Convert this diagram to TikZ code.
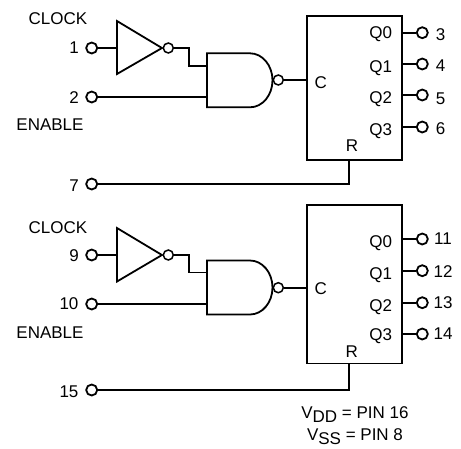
\documentclass[tikz,border=0pt]{standalone}
\usepackage{fontspec}
\setmainfont{Liberation Sans}
\begin{document}
\begin{tikzpicture}[x=1pt,y=-1pt]
		\tikzset{wire/.style = {line width=1.8pt}}
		\tikzset{pin/.style = {shape=circle,draw,line width=1.8pt,fill=white,inner sep=0pt,minimum size=11pt}}
		\tikzset{bubble/.style = {shape=circle,draw,line width=1.5pt,fill=white,inner sep=0pt,minimum size=10pt}}
		\tikzset{txt/.style = {font=\fontsize{17}{17}\selectfont,inner sep=0pt}}
		\useasboundingbox (0,0) rectangle (461,448);
		% upper half: pins
		\node[pin] (p1) at (91.7,48) {};
		\node[pin] (p2) at (91.7,97) {};
		\node[pin] (p7) at (91.7,184) {};
		\node[txt] (n1) at (74,48) {1};
		\node[txt] (n2) at (74,98) {2};
		\node[txt] (n7) at (74,186) {7};
		\node[txt] (clka) at (58,18.5) {CLOCK};
		\node[txt] (ena) at (50,125) {ENABLE};
		% upper half: gates
		\coordinate (inva) at (117,48);
		\draw[wire] (117,21) -- (162,48) -- (117,74) -- cycle;
		\node[bubble] (ba) at (168.3,48) {};
		\coordinate (na) at (207,66);
		\coordinate (nb) at (207,97);
		\draw[wire] (207,53.3) -- (250,53.3) arc[start angle=-90,end angle=90,x radius=22.5,y radius=27] -- (207,107.3) -- cycle;
		\node[bubble] (bb) at (278.3,80) {};
		% upper half: counter
		\node[draw,wire,minimum width=95pt,minimum height=144pt,inner sep=0pt] (cnta) at (354.5,88) {};
		\coordinate (ca) at (cnta.west |- bb);
		\coordinate (ra) at (349,160);
		\node[txt] (cla) at (320.7,83) {C};
		\node[txt] (rla) at (352,146) {R};
		\foreach \name/\ypos/\ytxt/\ynum/\num in {0/32.7/34/35/3,1/64/68/66/4,2/95/99/99/5,3/127/131/129/6} {
			\node[txt] (qa\name) at (380.7,\ytxt) {Q\name};
			\node[pin] (pa\name) at (422.3,\ypos) {};
			\node[txt] (na\name) at (440.7,\ynum) {\num};
			\coordinate (sa\name) at (402,\ypos);
			\draw[wire] (sa\name) -- (pa\name);
		}
		% upper half: wires
		\draw[wire] (p1) -- (inva);
		\draw[wire] (ba) -- (189,48) -- (189,66) -- (na);
		\draw[wire] (p2) -- (nb);
		\draw[wire] (bb) -- (ca);
		\draw[wire] (p7) -- (349,184) -- (ra);
		% lower half: pins
		\node[pin] (p9) at (91.7,255) {};
		\node[pin] (p10) at (91.7,304) {};
		\node[pin] (p15) at (91.7,390) {};
		\node[txt] (n9) at (74,256) {9};
		\node[txt] (n10) at (69,304) {10};
		\node[txt] (n15) at (69,392) {15};
		\node[txt] (clkb) at (58,228) {CLOCK};
		\node[txt] (enb) at (50,332.7) {ENABLE};
		% lower half: gates
		\coordinate (invb) at (117,255);
		\draw[wire] (117,228) -- (162,255) -- (117,281.5) -- cycle;
		\node[bubble] (bc) at (168.3,255) {};
		\coordinate (nc) at (207,272.5);
		\coordinate (nd) at (207,304);
		\draw[wire] (207,260.5) -- (250,260.5) arc[start angle=-90,end angle=90,x radius=22.5,y radius=27] -- (207,314.5) -- cycle;
		\node[bubble] (bd) at (278.3,287.7) {};
		% lower half: counter
		\node[draw,wire,minimum width=95pt,minimum height=158.5pt,inner sep=0pt] (cntb) at (354.5,284.25) {};
		\coordinate (cb) at (cntb.west |- bd);
		\coordinate (rb) at (349,363.5);
		\node[txt] (clb) at (320.7,289) {C};
		\node[txt] (rlb) at (351.7,351.7) {R};
		\foreach \name/\ypos/\ytxt/\ynum/\num in {0/239/242.7/239/11,1/270.7/275/272/12,2/302.7/306.7/303/13,3/334/336/334/14} {
			\node[txt] (qb\name) at (380.7,\ytxt) {Q\name};
			\node[pin] (pb\name) at (422.3,\ypos) {};
			\node[txt] (nb\name) at (443,\ynum) {\num};
			\coordinate (sb\name) at (402,\ypos);
			\draw[wire] (sb\name) -- (pb\name);
		}
		% lower half: wires
		\draw[wire] (p9) -- (invb);
		\draw[wire] (bc) -- (189,255) -- (189,272.5) -- (nc);
		\draw[wire] (p10) -- (nd);
		\draw[wire] (bd) -- (cb);
		\draw[wire] (p15) -- (349,390) -- (rb);
		% supply note
		\node[txt,anchor=base] (vdd) at (355,418) {V\raisebox{-4pt}{DD} = PIN 16};
		\node[txt,anchor=base] (vss) at (355,440) {V\raisebox{-4pt}{SS} = PIN 8};
		\end{tikzpicture}
\end{document}
